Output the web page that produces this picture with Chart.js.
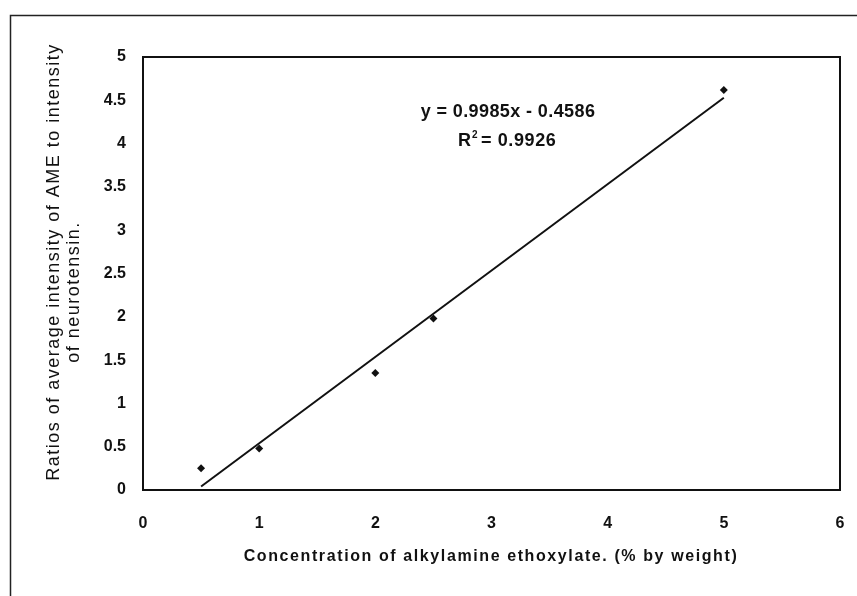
<!DOCTYPE html>
<html>
<head>
<meta charset="utf-8">
<script src="https://cdn.jsdelivr.net/npm/chart.js@4/dist/chart.umd.min.js"></script>
<style>
  html, body { margin: 0; padding: 0; background: #fff; }
  #wrap { width: 857px; height: 596px; position: relative; }
</style>
</head>
<body>
<div id="wrap"><canvas id="calChart"></canvas></div>
<script>
// data
const concentration = [0.5, 1, 2, 2.5, 5]
const ratio = [0.25, 0.48, 1.35, 1.98, 4.62]
// fitted line end points (y = 0.9985x - 0.4586)
const trendX = [0.5, 5]
const trendY = [0.04, 4.53]
const xTicks = [0, 1, 2, 3, 4, 5, 6]
const yTicks = [0, 0.5, 1, 1.5, 2, 2.5, 3, 3.5, 4, 4.5, 5]

const FONT = '"Liberation Sans", Arial, sans-serif'

// outer frame, plot box, equation and axis titles
const extras = {
  id: 'extras',
  beforeDraw(chart) {
    const c = chart.ctx
    c.save()
    c.fillStyle = '#fff'
    c.fillRect(0, 0, chart.width, chart.height)
    c.strokeStyle = '#222'
    c.lineWidth = 1.5
    c.beginPath()
    c.moveTo(10.5, 600)
    c.lineTo(10.5, 15.5)
    c.lineTo(860, 15.5)
    c.stroke()
    c.restore()
  },
  afterDraw(chart) {
    const c = chart.ctx
    const a = chart.chartArea
    c.save()
    c.strokeStyle = '#111'
    c.lineWidth = 2
    c.strokeRect(a.left, a.top, a.right - a.left, a.bottom - a.top)

    c.fillStyle = '#111'
    c.textAlign = 'center'
    c.textBaseline = 'middle'
    c.letterSpacing = '0.4px'
    c.font = 'bold 18px ' + FONT
    c.fillText('y = 0.9985x - 0.4586', 508, 112)
    c.textAlign = 'left'
    c.fillText('R', 458, 141)
    c.letterSpacing = '0.6px'
    c.fillText('= 0.9926', 481, 141)
    c.font = 'bold 10px ' + FONT
    c.letterSpacing = '0px'
    c.fillText('2', 472, 135)

    c.textAlign = 'center'
    c.letterSpacing = '1.6px'
    c.font = 'bold 16px ' + FONT
    c.fillText('Concentration of alkylamine ethoxylate. (% by weight)', 491, 557)

    c.letterSpacing = '1.5px'
    c.font = '18px ' + FONT
    c.textBaseline = 'alphabetic'
    c.translate(59, 262)
    c.rotate(-Math.PI / 2)
    c.fillText('Ratios of average intensity of AME to intensity', 0, 0)
    c.fillText('of neurotensin.', -30, 20)
    c.restore()
  }
}

const ctx = document.getElementById('calChart').getContext('2d')

new Chart(ctx, {
  type: 'scatter',
  data: {
    datasets: [
      {
        label: 'data',
        data: concentration.map((x, i) => ({ x: x, y: ratio[i] })),
        pointStyle: 'rectRot',
        pointRadius: 4,
        backgroundColor: '#111',
        borderColor: '#111',
        borderWidth: 0,
      },
      {
        label: 'fit',
        type: 'line',
        data: trendX.map((x, i) => ({ x: x, y: trendY[i] })),
        borderColor: '#111',
        borderWidth: 2,
        pointRadius: 0,
        fill: false,
      },
    ],
  },
  options: {
    responsive: true,
    maintainAspectRatio: false,
    animation: false,
    layout: { padding: { left: 0, top: 57, right: 17, bottom: 0 } },
    plugins: {
      legend: { display: false },
      tooltip: { enabled: false },
    },
    scales: {
      x: {
        type: 'linear',
        min: 0,
        max: 6,
        afterBuildTicks: (scale) => { scale.ticks = xTicks.map(v => ({ value: v })) },
        afterFit: (scale) => {
          scale.height = 106
          scale.paddingRight = 0
          scale.paddingLeft = 0
        },
        grid: { display: false, drawTicks: false },
        border: { color: '#111', width: 2 },
        ticks: {
          color: '#111',
          padding: 24,
          callback: (v) => String(v),
          font: { family: FONT, size: 16, weight: 'bold' },
        },
      },
      y: {
        min: 0,
        max: 5,
        afterBuildTicks: (scale) => { scale.ticks = yTicks.map(v => ({ value: v })) },
        afterFit: (scale) => { scale.width = 143 },
        grid: { display: false, drawTicks: true, tickLength: 5, tickColor: '#666' },
        border: { color: '#111', width: 2 },
        ticks: {
          color: '#111',
          padding: 12,
          callback: (v) => String(v),
          font: { family: FONT, size: 16, weight: 'bold' },
        },
      },
    },
  },
  plugins: [extras],
})
</script>
</body>
</html>
